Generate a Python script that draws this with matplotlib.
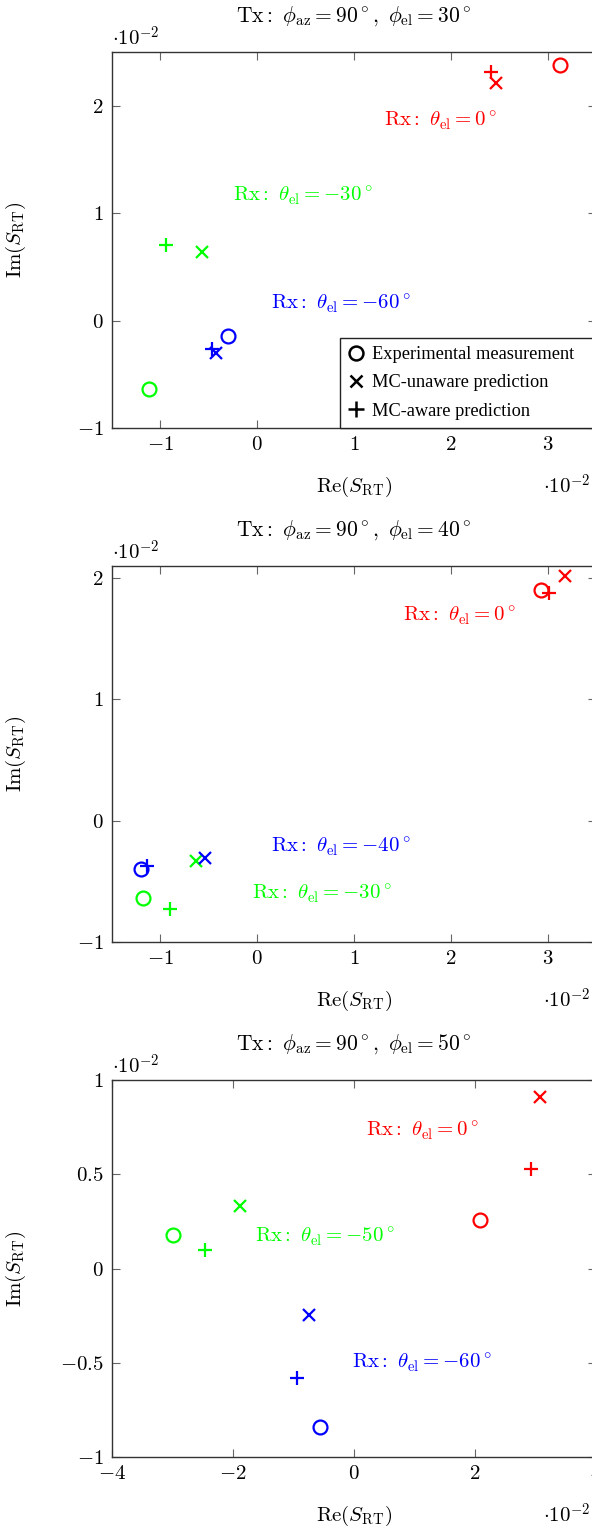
import numpy as np
import matplotlib
matplotlib.use("Agg")
import matplotlib.pyplot as plt
from matplotlib.lines import Line2D

plt.rcParams['mathtext.fontset'] = 'cm'
plt.rcParams['font.family'] = ['Liberation Serif', 'DejaVu Serif']

# all values in units of 1e-2
# panel 1: Tx phi_el = 30
p1_meas_re = [3.13, -1.12, -0.30]
p1_meas_im = [2.38, -0.64, -0.14]
p1_unaw_re = [2.47, -0.57, -0.43]
p1_unaw_im = [2.21, 0.64, -0.30]
p1_aw_re = [2.42, -0.94, -0.47]
p1_aw_im = [2.31, 0.70, -0.26]
p1_rx = [0, -30, -60]
p1_lbl_x = [1.89, 0.47, 0.86]
p1_lbl_y = [1.86, 1.16, 0.16]

# panel 2: Tx phi_el = 40
p2_meas_re = [2.93, -1.18, -1.20]
p2_meas_im = [1.90, -0.64, -0.40]
p2_unaw_re = [3.18, -0.63, -0.54]
p2_unaw_im = [2.02, -0.33, -0.31]
p2_aw_re = [3.01, -0.90, -1.14]
p2_aw_im = [1.88, -0.73, -0.37]
p2_rx = [0, -30, -40]
p2_lbl_x = [2.09, 0.67, 0.86]
p2_lbl_y = [1.69, -0.60, -0.21]

# panel 3: Tx phi_el = 50
p3_meas_re = [2.08, -3.00, -0.57]
p3_meas_im = [0.255, 0.18, -0.84]
p3_unaw_re = [3.08, -1.89, -0.74]
p3_unaw_im = [0.91, 0.33, -0.245]
p3_aw_re = [2.93, -2.46, -0.95]
p3_aw_im = [0.53, 0.096, -0.58]
p3_rx = [0, -50, -60]
p3_lbl_x = [1.14, -0.49, 1.12]
p3_lbl_y = [0.73, 0.17, -0.50]

tx_el = [30, 40, 50]
colors = ['#ff0000', '#00ff00', '#0000ff']

panels = [
    (p1_meas_re, p1_meas_im, p1_unaw_re, p1_unaw_im, p1_aw_re, p1_aw_im, p1_rx, p1_lbl_x, p1_lbl_y),
    (p2_meas_re, p2_meas_im, p2_unaw_re, p2_unaw_im, p2_aw_re, p2_aw_im, p2_rx, p2_lbl_x, p2_lbl_y),
    (p3_meas_re, p3_meas_im, p3_unaw_re, p3_unaw_im, p3_aw_re, p3_aw_im, p3_rx, p3_lbl_x, p3_lbl_y),
]
xlims = [(-1.5, 3.5), (-1.5, 3.5), (-4, 4)]
ylims = [(-1, 2.5), (-1, 2.1), (-1, 1)]
xticks = [[-1, 0, 1, 2, 3], [-1, 0, 1, 2, 3], [-4, -2, 0, 2, 4]]
yticks = [[-1, 0, 1, 2], [-1, 0, 1, 2], [-1, -0.5, 0, 0.5, 1]]
ytl = [['$-1$', '$0$', '$1$', '$2$'], ['$-1$', '$0$', '$1$', '$2$'],
       ['$-1$', '$-0.5$', '$0$', '$0.5$', '$1$']]
xtl = [['$-1$', '$0$', '$1$', '$2$', '$3$'], ['$-1$', '$0$', '$1$', '$2$', '$3$'],
       ['$-4$', '$-2$', '$0$', '$2$', '$4$']]
# axes boxes in figure pixels (top, bottom)
boxes = [(52, 428), (566, 942), (1080, 1457)]

W, H = 592, 1528
fig = plt.figure(figsize=(W / 100, H / 100), dpi=100)

fs = 15
ms = 10
for k, (mre, mim, ure, uim, are_, aim, rx, lx, ly) in enumerate(panels):
    top, bot = boxes[k]
    ax = fig.add_axes([112 / W, 1 - bot / H, 484 / W, (bot - top) / H])
    for i in range(3):
        c = colors[i]
        ax.plot(mre[i], mim[i], 'o', mfc='none', mec=c, ms=ms, mew=1.6, zorder=3)
        ax.plot(ure[i], uim[i], 'x', color=c, ms=ms * 0.85, mew=1.6, zorder=3)
        ax.plot(are_[i], aim[i], '+', color=c, ms=ms * 1.05, mew=1.6, zorder=3)
        ax.text(lx[i], ly[i], r'$\mathrm{Rx{:}}\ \theta_{\mathrm{el}} = %d^\circ$' % rx[i],
                color=c, fontsize=fs, ha='center', va='center')
    ax.set_xlim(*xlims[k])
    ax.set_ylim(*ylims[k])
    ax.set_xticks(xticks[k])
    ax.set_xticklabels(xtl[k], fontsize=fs)
    ax.set_yticks(yticks[k])
    ax.set_yticklabels(ytl[k], fontsize=fs)
    ax.tick_params(direction='in', top=True, right=True, length=6, width=0.8,
                   color='#666666', pad=6)
    for s in ax.spines.values():
        s.set_linewidth(1.0)
        s.set_color('#333333')
    ax.set_title(r'$\mathrm{Tx{:}}\ \phi_{\mathrm{az}} = 90^\circ,\ \phi_{\mathrm{el}} = %d^\circ$' % tx_el[k],
                 fontsize=15.5, pad=22)
    ax.set_xlabel(r'$\mathrm{Re}(S_{\mathrm{RT}})$', fontsize=fs, labelpad=14)
    ax.set_ylabel(r'$\mathrm{Im}(S_{\mathrm{RT}})$', fontsize=fs)
    ax.yaxis.set_label_coords(-84 / 484, 0.5)
    ax.text(0.0, 1.004, r'$\cdot 10^{-2}$', transform=ax.transAxes, fontsize=fs,
            ha='left', va='bottom')
    fig.text(590 / W, 1 - (bot + 59) / H, r'$\cdot 10^{-2}$', fontsize=fs,
             ha='right', va='center')
    if k == 0:
        handles = [
            Line2D([], [], ls='none', marker='o', mfc='none', mec='k', ms=10, mew=1.8),
            Line2D([], [], ls='none', marker='x', color='k', ms=9, mew=1.8),
            Line2D([], [], ls='none', marker='+', color='k', ms=12, mew=1.8),
        ]
        pad = '\u00a0\u00a0\u00a0'
        leg = ax.legend(handles, ['Experimental measurement' + pad, 'MC-unaware prediction',
                                  'MC-aware prediction'],
                        loc='lower right', bbox_to_anchor=(1.0, 0), borderaxespad=0,
                        fontsize=13.2, fancybox=False, framealpha=1, handlelength=0.8,
                        handletextpad=0.45, borderpad=0.45, labelspacing=0.62)
        leg.get_frame().set_edgecolor('#222222')
        leg.get_frame().set_linewidth(1.0)

fig.savefig('out.png', dpi=100)
